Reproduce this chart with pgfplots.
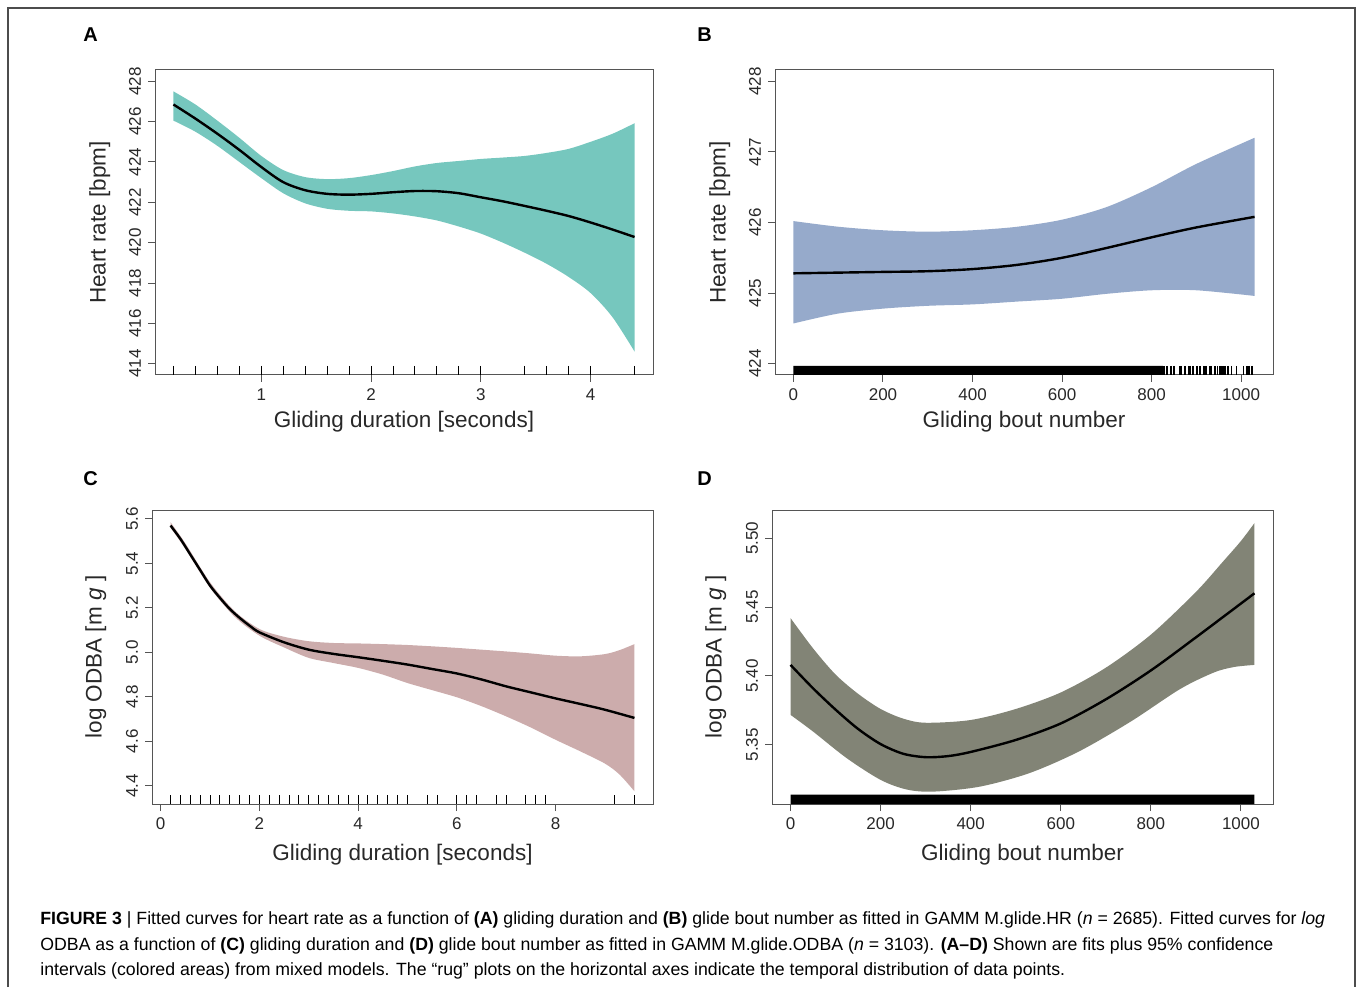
\documentclass[border=0pt]{standalone}
\usepackage{fontspec}
\setmainfont{Liberation Sans}
\usepackage{pgfplots}
\pgfplotsset{compat=1.18}
\usepgfplotslibrary{fillbetween}
\definecolor{cA}{RGB}{118,199,190}
\definecolor{cB}{RGB}{150,170,203}
\definecolor{cC}{RGB}{204,172,172}
\definecolor{cD}{RGB}{130,132,118}
\definecolor{boxc}{RGB}{85,85,85}
\definecolor{txt}{RGB}{40,40,40}
\pgfplotsset{
  rstyle/.style={
    scale only axis,
    anchor=north west,
    axis line style={boxc, line width=0.5pt},
    tick style={boxc, line width=0.5pt},
    tick align=outside,
    major tick length=3.5pt,
    xtick pos=bottom, ytick pos=left,
    minor tick num=0,
    /pgf/number format/assume math mode=true,
    /pgf/number format/set thousands separator={},
    ticklabel style={font=\fontsize{8.5}{10}\selectfont, text=txt},
    yticklabel style={rotate=90, anchor=south},
    label style={font=\fontsize{11.25}{13}\selectfont, text=txt},
    scaled ticks=false,
    clip=true,
  },
  curve/.style={black, line width=1.2pt, smooth},
  edge/.style={draw=none, smooth},
  rug/.style={only marks, mark=|, mark size=2.25pt, mark options={black, line width=0.5pt}},
}
\begin{document}
\begin{tikzpicture}
\path (0,0) rectangle (679pt,-494pt);
\draw[gray!60!black, line width=0.8pt] (4pt,-493.5pt) -- (4pt,-4pt) -- (677.5pt,-4pt) -- (677.5pt,-493.5pt);

\begin{scope}[every node/.style={anchor=base west, inner sep=0pt, font=\fontsize{10}{11}\selectfont\bfseries}]
\node at (41.5pt,-21pt) {A};
\node at (348.5pt,-21pt) {B};
\node at (41.5pt,-242.5pt) {C};
\node at (348.5pt,-242.5pt) {D};
\end{scope}

% ---------------- A
\begin{axis}[rstyle, at={(77.5pt,-35pt)}, width=249pt, height=152.5pt,
  xmin=0.032, xmax=4.568, ymin=413.44, ymax=428.56,
  xtick={1,2,3,4}, ytick={414,416,418,420,422,424,426,428},
  xlabel={Gliding duration [seconds]}, ylabel={Heart rate [bpm]},
  xlabel style={at={(axis description cs:0.5,-0.154)}, anchor=center},
  ylabel style={at={(axis description cs:-0.111,0.5)}, anchor=center}]
\addplot[edge, name path=up] coordinates {
(0.2,427.5) (0.4,426.85) (0.6,426.05) (0.8,425.2) (1.0,424.3) (1.2,423.6) (1.4,423.25) (1.6,423.15) (1.8,423.2) (2.0,423.35) (2.2,423.55) (2.4,423.78) (2.6,423.95) (2.8,424.05) (3.0,424.15) (3.2,424.22) (3.4,424.3) (3.6,424.45) (3.8,424.65) (4.0,425.0) (4.2,425.4) (4.4,425.92)};
\addplot[edge, name path=lo] coordinates {
(0.2,426.05) (0.4,425.5) (0.6,424.8) (0.8,424.0) (1.0,423.2) (1.2,422.45) (1.4,421.95) (1.6,421.68) (1.8,421.58) (2.0,421.55) (2.2,421.45) (2.4,421.3) (2.6,421.1) (2.8,420.8) (3.0,420.45) (3.2,420.0) (3.4,419.5) (3.6,418.95) (3.8,418.3) (4.0,417.5) (4.2,416.3) (4.4,414.6)};
\addplot[fill=cA, draw=none] fill between[of=up and lo];
\addplot[curve] coordinates {
(0.2,426.85) (0.4,426.15) (0.6,425.4) (0.8,424.6) (1.0,423.75) (1.2,423.0) (1.4,422.6) (1.6,422.42) (1.8,422.38) (2.0,422.42) (2.2,422.5) (2.4,422.56) (2.6,422.55) (2.8,422.45) (3.0,422.25) (3.2,422.05) (3.4,421.82) (3.6,421.58) (3.8,421.32) (4.0,421.0) (4.2,420.65) (4.4,420.28)};
\addplot[rug] coordinates {
(0.2,413.663) (0.4,413.663) (0.6,413.663) (0.8,413.663) (1.0,413.663) (1.2,413.663) (1.4,413.663) (1.6,413.663) (1.8,413.663) (2.0,413.663) (2.2,413.663) (2.4,413.663) (2.6,413.663) (2.8,413.663) (3.0,413.663) (3.4,413.663) (3.6,413.663) (3.8,413.663) (4.0,413.663) (4.4,413.663)};
\end{axis}

% ---------------- B
\begin{axis}[rstyle, at={(387.5pt,-35pt)}, width=249pt, height=152.5pt,
  xmin=-41.2, xmax=1071.2, ymin=423.84, ymax=428.16,
  xtick={0,200,400,600,800,1000}, ytick={424,425,426,427,428},
  xlabel={Gliding bout number}, ylabel={Heart rate [bpm]},
  xlabel style={at={(axis description cs:0.5,-0.154)}, anchor=center},
  ylabel style={at={(axis description cs:-0.111,0.5)}, anchor=center}]
\addplot[edge, name path=up] coordinates {
(0,426.02) (100,425.94) (200,425.89) (300,425.87) (400,425.89) (500,425.94) (600,426.04) (700,426.22) (800,426.5) (900,426.83) (1030,427.2)};
\addplot[edge, name path=lo] coordinates {
(0,424.57) (100,424.71) (200,424.78) (300,424.82) (400,424.84) (500,424.88) (600,424.92) (700,424.99) (800,425.04) (900,425.04) (1030,424.96)};
\addplot[fill=cB, draw=none] fill between[of=up and lo];
\addplot[curve] coordinates {
(0,425.28) (100,425.29) (200,425.30) (300,425.31) (400,425.34) (500,425.40) (600,425.50) (700,425.64) (800,425.79) (900,425.93) (1030,426.08)};
\addplot[fill=black, draw=none] coordinates {(0,423.84) (825,423.84) (825,423.9675) (0,423.9675) (0,423.84)};
\addplot[rug, mark options={black, line width=0.75pt}] coordinates {
(826,423.904) (829,423.904) (834,423.904) (843,423.904) (850,423.904) (863.5,423.904) (867,423.904) (875,423.904) (882,423.904) (886,423.904) (893,423.904) (901,423.904) (908,423.904) (916,423.904) (919,423.904) (922,423.904) (930,423.904) (934,423.904) (942,423.904) (947,423.904) (953,423.904) (956,423.904) (959,423.904) (964,423.904) (971,423.904) (979,423.904) (990,423.904) (1005,423.904) (1013,423.904) (1018,423.904) (1024,423.904)};
\end{axis}

% ---------------- C
\begin{axis}[rstyle, at={(76pt,-255pt)}, width=250.5pt, height=147pt,
  xmin=-0.176, xmax=9.976, ymin=4.318, ymax=5.64,
  xtick={0,2,4,6,8}, ytick={4.4,4.6,4.8,5.0,5.2,5.4,5.6},
  yticklabel style={/pgf/number format/.cd, fixed, fixed zerofill, precision=1},
  xlabel={Gliding duration [seconds]}, ylabel={log ODBA [m \textit{g} ]},
  xlabel style={at={(axis description cs:0.5,-0.173)}, anchor=center},
  ylabel style={at={(axis description cs:-0.112,0.5)}, anchor=center}]
\addplot[edge, name path=up] coordinates {
(0.2,5.585) (0.5,5.49) (1.0,5.315) (1.5,5.185) (2.0,5.105) (2.5,5.07) (3.0,5.05) (3.5,5.042) (4.0,5.04) (4.5,5.037) (5.0,5.033) (5.5,5.027) (6.0,5.02) (6.5,5.012) (7.0,5.004) (7.5,4.995) (8.0,4.985) (8.5,4.982) (9.0,4.992) (9.3,5.01) (9.6,5.037)};
\addplot[edge, name path=lo] coordinates {
(0.2,5.56) (0.5,5.465) (1.0,5.29) (1.5,5.16) (2.0,5.075) (2.5,5.022) (3.0,4.975) (3.5,4.952) (4.0,4.93) (4.5,4.9) (5.0,4.862) (5.5,4.83) (6.0,4.798) (6.5,4.758) (7.0,4.712) (7.5,4.662) (8.0,4.607) (8.5,4.555) (9.0,4.5) (9.3,4.45) (9.6,4.375)};
\addplot[fill=cC, draw=none] fill between[of=up and lo];
\addplot[curve] coordinates {
(0.2,5.57) (0.4,5.51) (0.6,5.44) (0.8,5.37) (1.0,5.30) (1.2,5.245) (1.4,5.195) (1.6,5.155) (1.8,5.12) (2.0,5.09) (2.5,5.045) (3.0,5.012) (3.5,4.993) (4.0,4.978) (4.5,4.962) (5.0,4.945) (5.5,4.925) (6.0,4.905) (6.5,4.878) (7.0,4.847) (7.5,4.82) (8.0,4.793) (8.5,4.768) (9.0,4.742) (9.6,4.705)};
\addplot[rug] coordinates {
(0.2,4.338) (0.4,4.338) (0.6,4.338) (0.8,4.338) (1.0,4.338) (1.2,4.338) (1.4,4.338) (1.6,4.338) (1.8,4.338) (2.0,4.338) (2.2,4.338) (2.4,4.338) (2.6,4.338) (2.8,4.338) (3.0,4.338) (3.2,4.338) (3.4,4.338) (3.6,4.338) (3.8,4.338) (4.0,4.338) (4.2,4.338) (4.4,4.338) (4.6,4.338) (4.8,4.338) (5.0,4.338) (5.4,4.338) (5.6,4.338) (6.0,4.338) (6.2,4.338) (6.4,4.338) (6.8,4.338) (7.0,4.338) (7.4,4.338) (7.6,4.338) (7.8,4.338) (9.2,4.338) (9.6,4.338)};
\end{axis}

% ---------------- D
\begin{axis}[rstyle, at={(386pt,-255pt)}, width=250.5pt, height=147pt,
  xmin=-41.2, xmax=1071.2, ymin=5.307, ymax=5.5205,
  xtick={0,200,400,600,800,1000}, ytick={5.35,5.40,5.45,5.50},
  yticklabel style={/pgf/number format/.cd, fixed, fixed zerofill, precision=2},
  xlabel={Gliding bout number}, ylabel={log ODBA [m \textit{g} ]},
  xlabel style={at={(axis description cs:0.5,-0.173)}, anchor=center},
  ylabel style={at={(axis description cs:-0.112,0.5)}, anchor=center}]
\addplot[edge, name path=up] coordinates {
(0,5.442) (50,5.420) (100,5.401) (150,5.387) (200,5.376) (250,5.369) (300,5.366) (400,5.368) (500,5.376) (600,5.388) (700,5.406) (800,5.430) (900,5.461) (960,5.483) (1000,5.498) (1030,5.511)};
\addplot[edge, name path=lo] coordinates {
(0,5.3717) (50,5.3596) (125,5.3402) (200,5.3245) (258,5.3175) (317,5.316) (420,5.3196) (530,5.3294) (640,5.3451) (755,5.3668) (865,5.3905) (940,5.4025) (985,5.4065) (1030,5.408)};
\addplot[fill=cD, draw=none] fill between[of=up and lo];
\addplot[curve] coordinates {
(0,5.408) (50,5.391) (100,5.3755) (150,5.3615) (200,5.3505) (250,5.3435) (300,5.341) (350,5.3418) (400,5.3448) (500,5.3535) (600,5.3655) (700,5.383) (800,5.404) (900,5.428) (1030,5.460)};
\addplot[fill=black, draw=none] coordinates {(0,5.307) (1030,5.307) (1030,5.3138) (0,5.3138) (0,5.307)};
\end{axis}

% ---------------- caption
\begin{scope}[every node/.style={anchor=base west, inner sep=0pt, font=\fontsize{8.85}{10}\selectfont}]
\node at (20pt,-462pt) {\textbf{FIGURE 3} | Fitted curves for heart rate as a function of \textbf{(A)} gliding duration and \textbf{(B)} glide bout number as fitted in GAMM M.glide.HR (\textit{n} = 2685). Fitted curves for \textit{log}};
\node at (20pt,-475pt) {ODBA as a function of \textbf{(C)} gliding duration and \textbf{(D)} glide bout number as fitted in GAMM M.glide.ODBA (\textit{n} = 3103). \textbf{(A–D)} Shown are fits plus 95\% confidence};
\node at (20pt,-487.5pt) {intervals (colored areas) from mixed models. The “rug” plots on the horizontal axes indicate the temporal distribution of data points.};
\end{scope}
\end{tikzpicture}
\end{document}
